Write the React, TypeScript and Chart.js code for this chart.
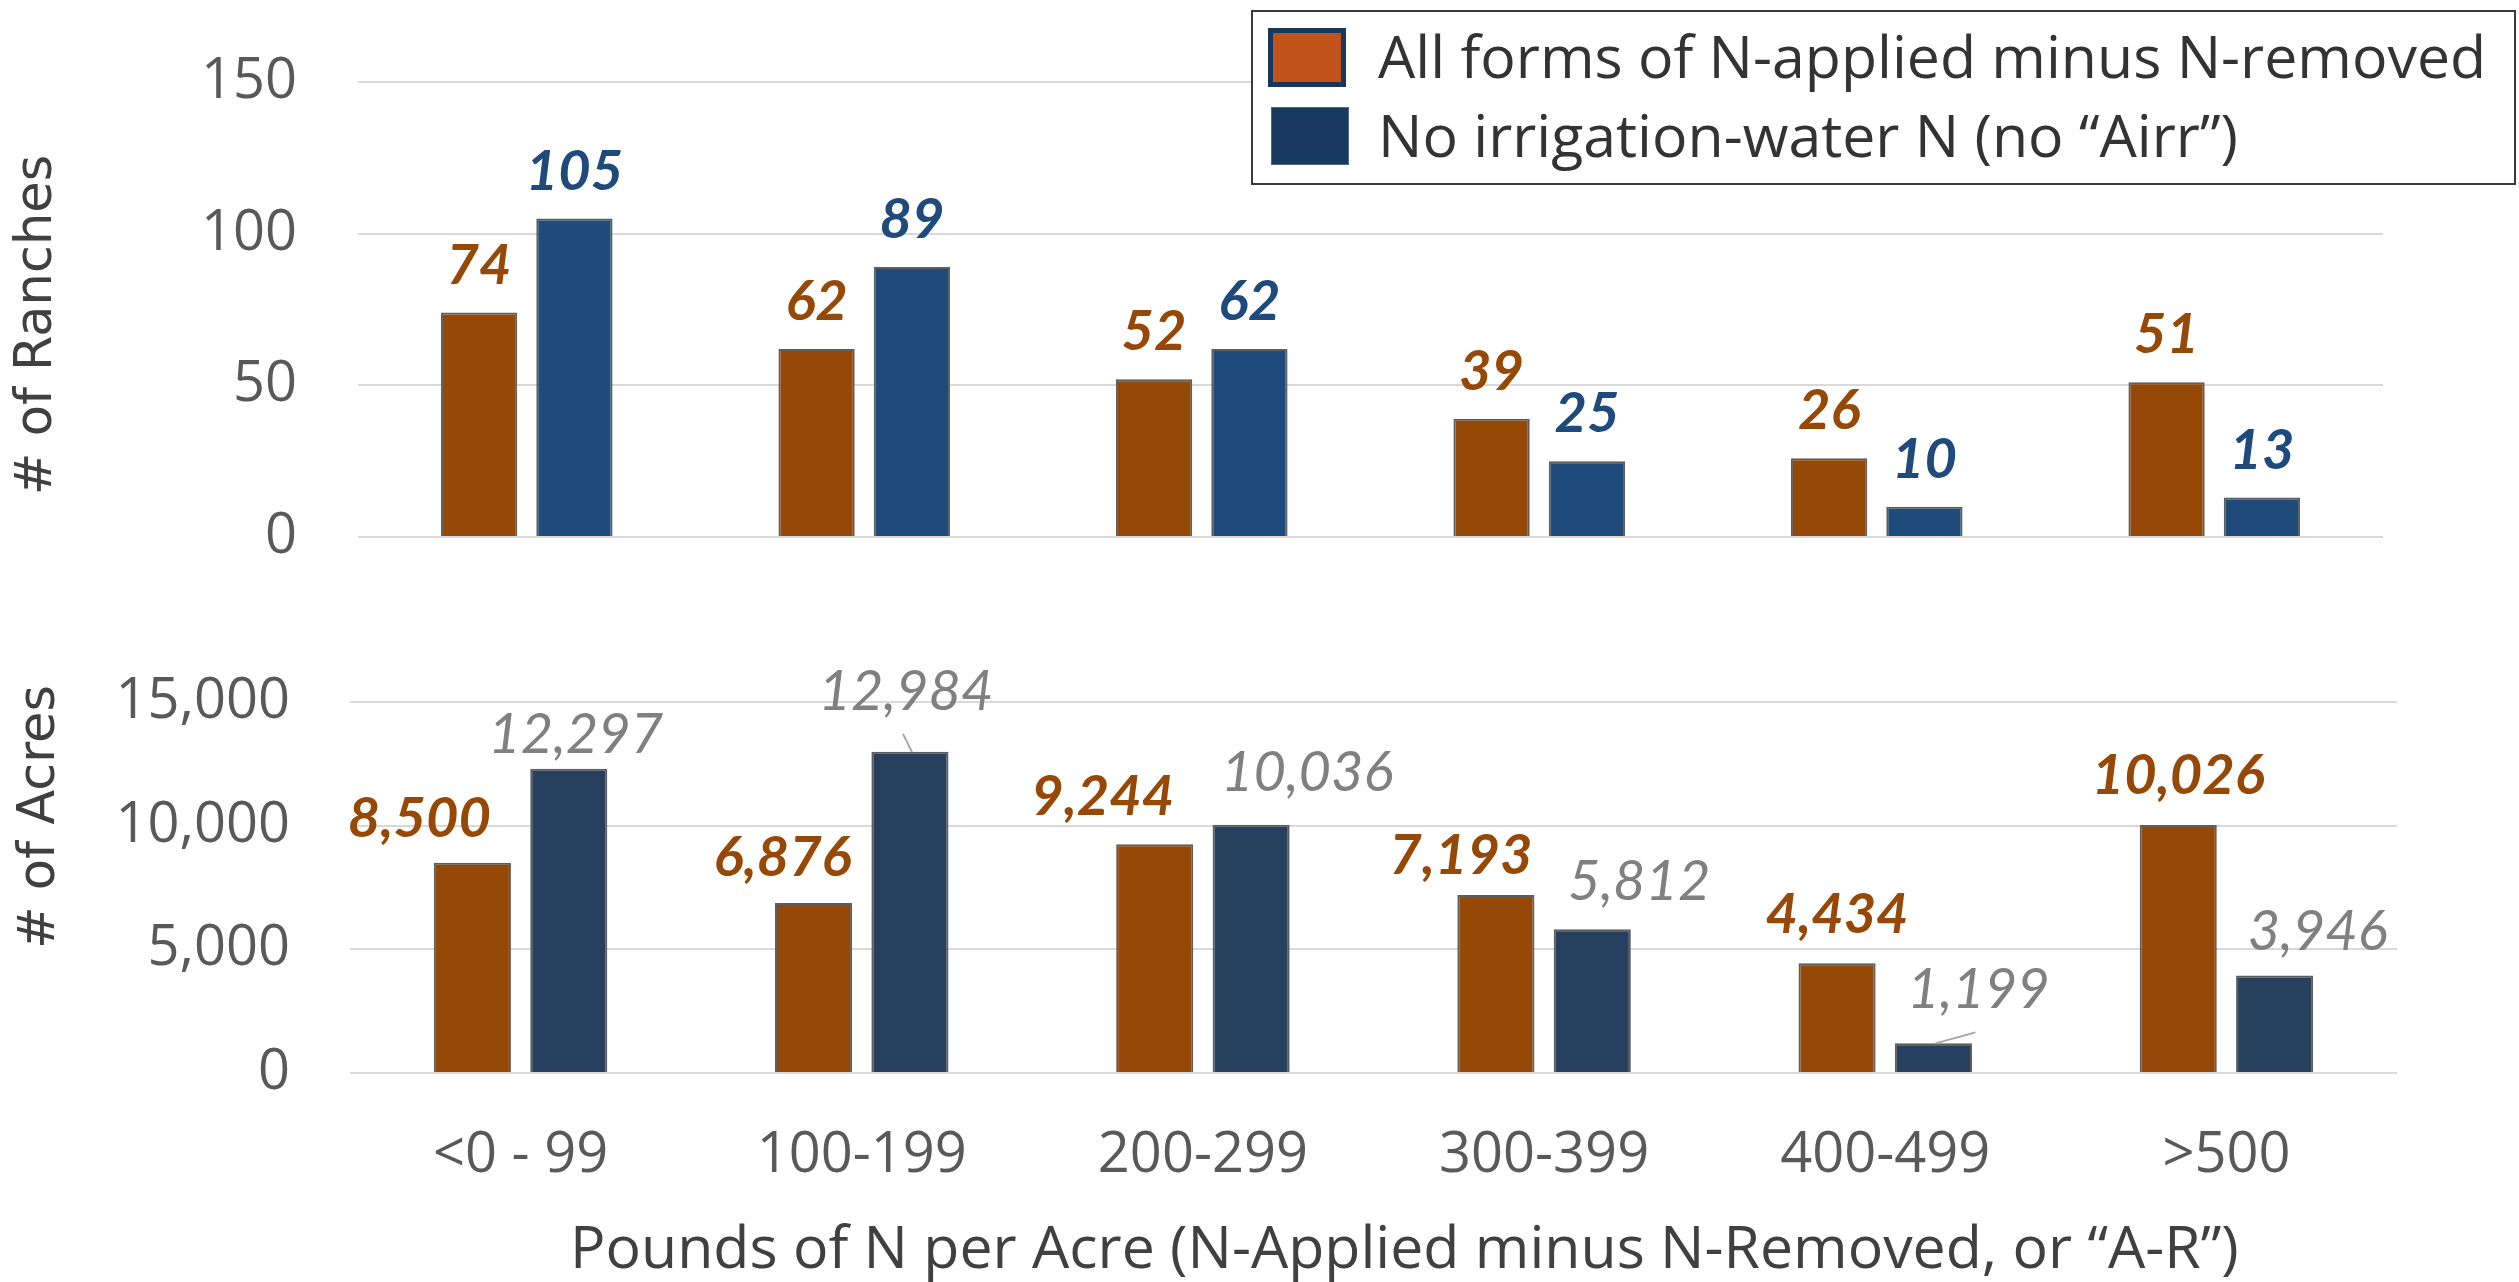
import React, { useEffect, useRef } from "react";
import { Chart, registerables } from "chart.js";

Chart.register(...registerables);

// ---------------- data ----------------
const categories = ["<0 - 99", "100-199", "200-299", "300-399", "400-499", ">500"];
const seriesNames = ["All forms of N-applied minus N-removed", "No irrigation-water N (no “Airr”)"];
const ranchesAll = [74, 62, 52, 39, 26, 51];
const ranchesNoAirr = [105, 89, 62, 25, 10, 13];
const acresAll = [8500, 6876, 9244, 7193, 4434, 10026];
const acresNoAirr = [12297, 12984, 10036, 5812, 1199, 3946];
const ranchTickStep = 50;
const ranchMax = 150;
const acreTickStep = 5000;
const acreMax = 15000;
const yTitleTop = "# of Ranches";
const yTitleBottom = "# of Acres";
const xTitle = "Pounds of N per Acre (N-Applied minus N-Removed, or “A-R”)";

// ---------------- styles ----------------
const W = 2519;
const TOP_H = 600;
const BOT_H = 682;
const ORANGE = "#964806";
const TOP_BLUE = "#1F4A7C";
const BOT_BLUE = "#27405F";
const BAR_BORDER = "#5E5E5E";
const GRID = "#D9D9D9";
const TICK = "#595959";
const TITLE = "#404040";
const TICK_FONT = { family: "'Open Sans', sans-serif", size: 56 };
const LABEL_FONT_BOLD = "italic bold 56px Lato, 'Open Sans', sans-serif";
const LABEL_FONT_LIGHT = "italic 56px Lato, 'Open Sans', sans-serif";

// label placement tweaks (style only): horizontal shift and gap above bar top
const topNudges = [0, 0, 0, 0, 0, 0].map(() => ({ dx: 0, gap: 29 }));
const acresAllNudges = [
  { dx: -53, gap: 26 },
  { dx: -31, gap: 27 },
  { dx: -52, gap: 29 },
  { dx: -35, gap: 21 },
  { dx: 0, gap: 30 },
  { dx: 0, gap: 31 },
];
const acresNoAirrNudges = [
  { dx: 7, gap: 16 },
  { dx: -4, gap: 42, leader: true },
  { dx: 56, gap: 34 },
  { dx: 47, gap: 29 },
  { dx: 45, gap: 35, leader: true },
  { dx: 43, gap: 25 },
];

const fmt = (v: number) => v.toLocaleString("en-US");

type Nudge = { dx: number; gap: number; leader?: boolean };
type LabelSeries = { font: string; color: string; nudges: Nudge[] };

function makeBarLabels(series: LabelSeries[]) {
  return {
    id: "barLabels",
    afterDatasetsDraw(chart: any) {
      const ctx = chart.ctx;
      ctx.save();
      series.forEach((s, di) => {
        const meta = chart.getDatasetMeta(di);
        meta.data.forEach((bar: any, i: number) => {
          const v = chart.data.datasets[di].data[i] as number;
          const n = s.nudges[i];
          const x = bar.x + n.dx;
          const y = bar.y - n.gap;
          ctx.font = s.font;
          ctx.fillStyle = s.color;
          ctx.textAlign = "center";
          ctx.textBaseline = "alphabetic";
          ctx.fillText(fmt(v), x, y);
          if (n.leader) {
            ctx.strokeStyle = "#A6A6A6";
            ctx.lineWidth = 2;
            ctx.beginPath();
            ctx.moveTo(bar.x + 2, bar.y);
            ctx.lineTo(x - 3, y + 24);
            ctx.stroke();
          }
        });
      });
      ctx.restore();
    },
  };
}

function makeYTitle(text: string, cx: number, cy: number) {
  return {
    id: "yTitle",
    afterDraw(chart: any) {
      const ctx = chart.ctx;
      ctx.save();
      ctx.translate(cx, cy);
      ctx.rotate(-Math.PI / 2);
      ctx.font = "51px 'DejaVu Sans', sans-serif";
      ctx.fillStyle = TITLE;
      ctx.textAlign = "center";
      ctx.textBaseline = "middle";
      ctx.fillText(text, 0, 0);
      ctx.restore();
    },
  };
}

const legendPlugin = {
  id: "boxLegend",
  afterDraw(chart: any) {
    const ctx = chart.ctx;
    const ds = chart.data.datasets;
    ctx.save();
    ctx.fillStyle = "#FFFFFF";
    ctx.fillRect(1251, 10, 1265, 175);
    ctx.strokeStyle = "#3A3A3A";
    ctx.lineWidth = 2;
    ctx.strokeRect(1252, 11, 1263, 173);
    // swatch 1
    ctx.fillStyle = "#17375E";
    ctx.fillRect(1268, 28, 78, 59);
    ctx.fillStyle = "#C0521A";
    ctx.fillRect(1273, 33, 68, 49);
    // swatch 2
    ctx.fillStyle = "#4A6A8A";
    ctx.fillRect(1271, 107, 78, 58);
    ctx.fillStyle = "#173A5E";
    ctx.fillRect(1272, 108, 76, 56);
    ctx.font = "59px 'Open Sans', sans-serif";
    ctx.fillStyle = "#333333";
    ctx.textAlign = "left";
    ctx.textBaseline = "alphabetic";
    ctx.fillText(ds[0].label, 1378, 78);
    ctx.fillText(ds[1].label, 1378, 157);
    ctx.restore();
  },
};

const xTitlePlugin = {
  id: "xTitle",
  afterDraw(chart: any) {
    const ctx = chart.ctx;
    ctx.save();
    ctx.font = "59px 'Open Sans', sans-serif";
    ctx.fillStyle = TITLE;
    ctx.textAlign = "left";
    ctx.textBaseline = "alphabetic";
    ctx.fillText(xTitle, 570, 668);
    ctx.restore();
  },
};

export default function App() {
  const topRef = useRef<HTMLCanvasElement | null>(null);
  const botRef = useRef<HTMLCanvasElement | null>(null);

  useEffect(() => {
    const barCommon = { borderColor: BAR_BORDER, borderWidth: 2, barPercentage: 0.8, categoryPercentage: 0.565 };

    const top = new Chart(topRef.current as HTMLCanvasElement, {
      type: "bar",
      data: {
        labels: categories,
        datasets: [
          { label: seriesNames[0], data: ranchesAll, backgroundColor: ORANGE, ...barCommon },
          { label: seriesNames[1], data: ranchesNoAirr, backgroundColor: TOP_BLUE, ...barCommon },
        ],
      },
      options: {
        animation: false,
        responsive: false,
        maintainAspectRatio: false,
        layout: { padding: { top: 82, bottom: TOP_H - 537, left: 0, right: W - 2383 } },
        plugins: { legend: { display: false }, tooltip: { enabled: false } },
        scales: {
          x: { display: false },
          y: {
            min: 0,
            max: ranchMax,
            ticks: { stepSize: ranchTickStep, padding: 61, color: TICK, font: TICK_FONT },
            grid: { color: GRID, lineWidth: 2, drawTicks: false },
            border: { display: false },
            afterFit: (s: any) => {
              s.width = 358;
              s.paddingTop = 0;
              s.paddingBottom = 0;
            },
          },
        },
      } as any,
      plugins: [
        makeBarLabels([
          { font: LABEL_FONT_BOLD, color: ORANGE, nudges: topNudges },
          { font: LABEL_FONT_BOLD, color: TOP_BLUE, nudges: topNudges },
        ]),
        makeYTitle(yTitleTop, 38, 325),
        legendPlugin,
      ],
    });

    const bot = new Chart(botRef.current as HTMLCanvasElement, {
      type: "bar",
      data: {
        labels: categories,
        datasets: [
          { label: seriesNames[0], data: acresAll, backgroundColor: ORANGE, ...barCommon },
          { label: seriesNames[1], data: acresNoAirr, backgroundColor: BOT_BLUE, ...barCommon },
        ],
      },
      options: {
        animation: false,
        responsive: false,
        maintainAspectRatio: false,
        layout: { padding: { top: 102, bottom: 0, left: 0, right: W - 2397 } },
        plugins: { legend: { display: false }, tooltip: { enabled: false } },
        scales: {
          x: {
            ticks: { padding: 49, color: TICK, font: TICK_FONT, maxRotation: 0, autoSkip: false },
            grid: { display: false, drawTicks: false },
            border: { display: false },
            afterFit: (s: any) => {
              s.height = BOT_H - 473;
            },
          },
          y: {
            min: 0,
            max: acreMax,
            ticks: {
              stepSize: acreTickStep,
              padding: 60,
              color: TICK,
              font: TICK_FONT,
              callback: (v: any) => fmt(Number(v)),
            },
            grid: { color: GRID, lineWidth: 2, drawTicks: false },
            border: { display: false },
            afterFit: (s: any) => {
              s.width = 350;
              s.paddingTop = 0;
              s.paddingBottom = 0;
            },
          },
        },
      } as any,
      plugins: [
        makeBarLabels([
          { font: LABEL_FONT_BOLD, color: ORANGE, nudges: acresAllNudges },
          { font: LABEL_FONT_LIGHT, color: "#808080", nudges: acresNoAirrNudges },
        ]),
        makeYTitle(yTitleBottom, 41, 217),
        xTitlePlugin,
      ],
    });

    return () => {
      top.destroy();
      bot.destroy();
    };
  }, []);

  return (
    <div style={{ position: "absolute", left: 0, top: 0, width: W, height: TOP_H + BOT_H, background: "#fff" }}>
      <canvas ref={topRef} width={W} height={TOP_H} style={{ position: "absolute", left: 0, top: 0, width: W, height: TOP_H }} />
      <canvas ref={botRef} width={W} height={BOT_H} style={{ position: "absolute", left: 0, top: TOP_H, width: W, height: BOT_H }} />
    </div>
  );
}
